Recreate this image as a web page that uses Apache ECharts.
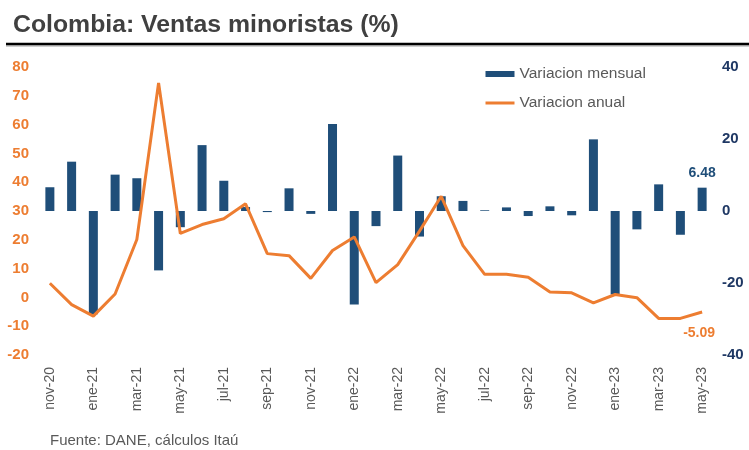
<!DOCTYPE html>
<html><head><meta charset="utf-8">
<script src="https://cdn.jsdelivr.net/npm/echarts@6/dist/echarts.min.js"></script>
<style>html,body{margin:0;padding:0;background:#fff}#c{width:749px;height:450px}</style>
</head><body><div id="c"></div>
<script>
const categories = ['nov-20','dic-20','ene-21','feb-21','mar-21','abr-21','may-21','jun-21','jul-21','ago-21','sep-21','oct-21','nov-21','dic-21','ene-22','feb-22','mar-22','abr-22','may-22','jun-22','jul-22','ago-22','sep-22','oct-22','nov-22','dic-22','ene-23','feb-23','mar-23','abr-23','may-23'];
const mensual = [6.6,13.7,-28.7,10.1,9.1,-16.5,-4.5,18.3,8.4,1.1,-0.3,6.3,-0.8,24.2,-26.0,-4.2,15.4,-7.1,4.1,2.8,0.2,1.0,-1.4,1.3,-1.2,19.9,-23.2,-5.1,7.4,-6.6,6.48];
const anual = [4.9,-2.5,-6.5,1.2,20.1,74.5,22.2,25.3,27.3,32.5,15.2,14.5,6.6,16.3,21.0,5.1,11.4,23.0,35.1,18.0,8.0,8.0,7.0,1.9,1.6,-1.9,1.0,-0.1,-7.3,-7.3,-5.09];
const leftTicks = {min:-20, max:80, interval:10};
const rightTicks = {min:-40, max:40, interval:20};

const BLUE = '#1F4E79', ORANGE = '#ED7D31', GRAY = '#595959';
const FONT = 'Liberation Sans, Arial, sans-serif';
const chart = echarts.init(document.getElementById('c'));
const last = mensual.length - 1;
chart.setOption({
  animation: false,
  textStyle: {fontFamily: FONT},
  title: {text: 'Colombia: Ventas minoristas (%)', left: 8, top: 8,
    textStyle: {fontSize: 24.8, fontWeight: 'bold', color: '#404040', fontFamily: FONT}},
  graphic: [
    {type: 'line', shape: {x1: 6, y1: 46, x2: 749, y2: 46}, style: {stroke: '#cfcfcf', lineWidth: 2}},
    {type: 'line', shape: {x1: 6, y1: 44, x2: 749, y2: 44}, style: {stroke: '#000', lineWidth: 2.5}},
    {type: 'text', left: 50, top: 433, style: {text: 'Fuente: DANE, cálculos Itaú', fill: GRAY, fontSize: 15, fontFamily: FONT}}
  ],
  legend: {
    orient: 'vertical', left: 484, top: 66, padding: 0, itemGap: 13, itemWidth: 29, itemHeight: 6,
    textStyle: {color: GRAY, fontSize: 15.5, fontFamily: FONT},
    data: [{name: 'Variacion mensual', icon: 'rect'},
           {name: 'Variacion anual', itemStyle: {opacity: 0}, lineStyle: {width: 3, color: ORANGE}}]
  },
  grid: {left: 39, right: 36, top: 67, bottom: 95},
  xAxis: {
    type: 'category', data: categories, boundaryGap: true,
    axisLine: {show: false}, axisTick: {show: false},
    axisLabel: {rotate: 90, interval: 1, color: GRAY, fontSize: 14, margin: 12}
  },
  yAxis: [
    {type: 'value', min: leftTicks.min, max: leftTicks.max, interval: leftTicks.interval,
     splitLine: {show: false}, axisLine: {show: false}, axisTick: {show: false},
     axisLabel: {color: ORANGE, fontWeight: 'bold', fontSize: 15, margin: 10}},
    {type: 'value', min: rightTicks.min, max: rightTicks.max, interval: rightTicks.interval,
     splitLine: {show: false}, axisLine: {show: false}, axisTick: {show: false},
     axisLabel: {color: '#1F3864', fontWeight: 'bold', fontSize: 15, margin: 9}}
  ],
  series: [
    {name: 'Variacion mensual', type: 'bar', yAxisIndex: 1, barWidth: 9,
     itemStyle: {color: BLUE},
     data: mensual.map((v, i) => i === last ? {value: v, label: {show: true, position: 'top', distance: 8,
       formatter: v.toFixed(2), color: BLUE, fontWeight: 'bold', fontSize: 14}} : v)},
    {name: 'Variacion anual', type: 'line', yAxisIndex: 0, symbol: 'none',
     lineStyle: {color: ORANGE, width: 3}, itemStyle: {color: ORANGE},
     endLabel: {show: true, formatter: (p) => Number(p.value).toFixed(2), color: ORANGE, fontWeight: 'bold', fontSize: 14,
       align: 'center', verticalAlign: 'middle', distance: 0, offset: [-3, 21]},
     data: anual}
  ]
});
</script></body></html>
